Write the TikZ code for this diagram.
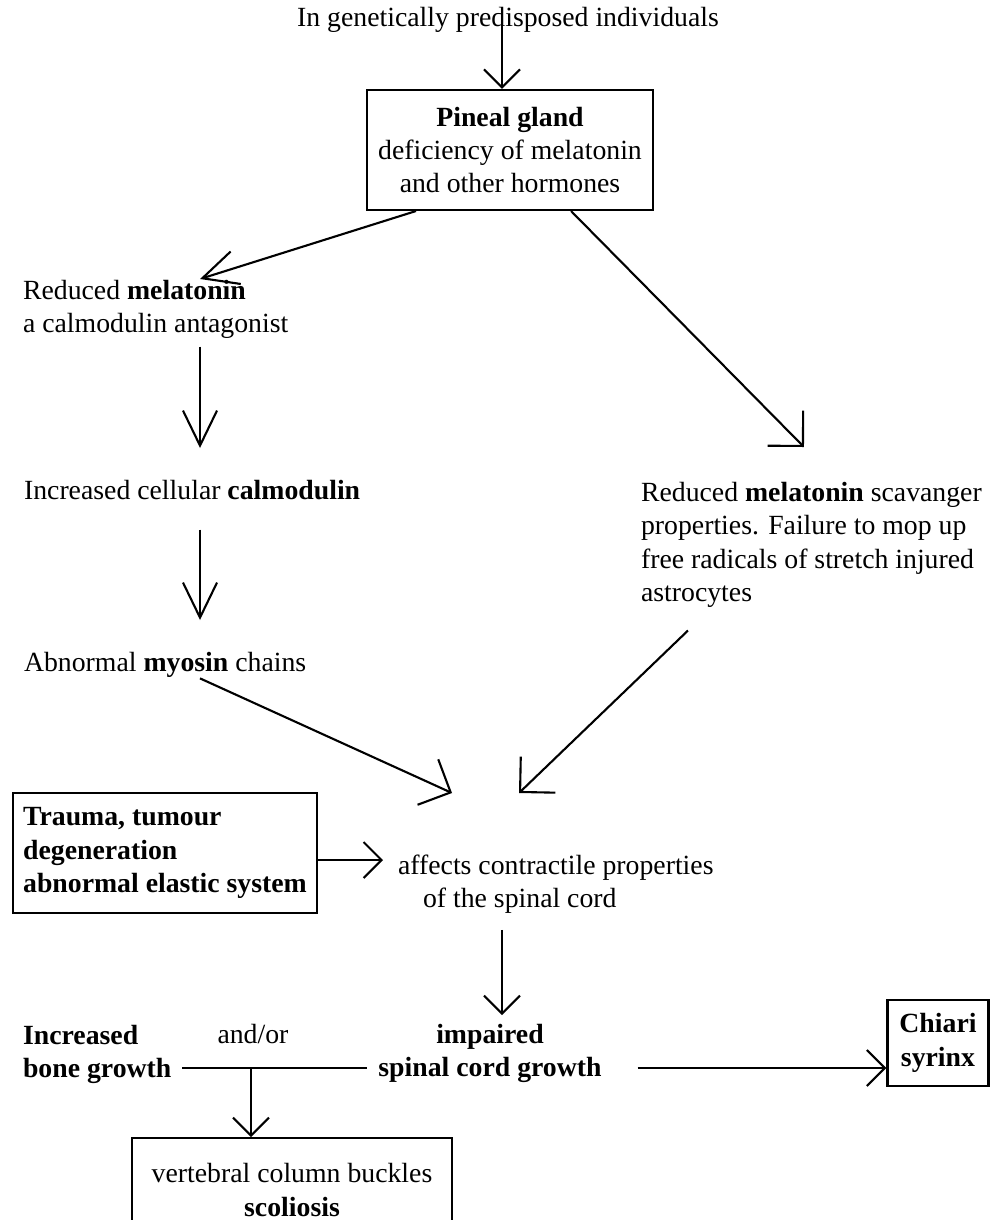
\documentclass[tikz,border=0pt]{standalone}
\usepackage{fontspec}
\setmainfont{Liberation Serif}
\usetikzlibrary{arrows.meta}

\begin{document}
\begin{tikzpicture}[x=0.02cm,y=-0.02cm,
  font=\fontsize{15.8}{19}\selectfont, inner sep=0pt, line width=1.2pt,
  box/.style={draw,align=center},
  arr/.style={-{Straight Barb[length=0.7cm,width=0.68cm]}},
  diag/.style={-{Straight Barb[length=0.5cm,width=1cm]}},
  wide/.style={-{Straight Barb[length=0.36cm,width=0.72cm]}}]
\useasboundingbox (0,0) rectangle (999,1220);
\clip (0,0) rectangle (999,1220);

% texts and boxes
\node (top) [anchor=base] at (508,27) {In genetically predisposed individuals};
\node (pineal) [box, minimum width=5.72cm, minimum height=2.4cm] at (510,150)
  {\textbf{Pineal gland}\\deficiency of melatonin\\and other hormones};
\node (red) [anchor=north west, align=left] at (22,279)
  {Reduced \textbf{melatonin}\\a calmodulin antagonist};
\node (calm) [anchor=north west] at (23,479) {Increased cellular \textbf{calmodulin}};
\node (myo) [anchor=north west] at (23,651) {Abnormal \textbf{myosin} chains};
\node (scav) [anchor=north west, align=left] at (640,481)
  {Reduced \textbf{melatonin} scavanger\\properties. Failure to mop up\\free radicals of stretch injured\\astrocytes};
\node (trauma) [box, align=left, minimum width=6.08cm, minimum height=2.4cm] at (165,853)
  {\textbf{Trauma, tumour}\\\textbf{degeneration}\\\textbf{abnormal elastic system}};
\node (affects) [anchor=north west, align=left] at (397,854)
  {affects contractile properties\\\hspace*{0.5cm}of the spinal cord};
\node (bone) [anchor=north west, align=left] at (22,1024) {\textbf{Increased}\\\textbf{bone growth}};
\node (andor) [anchor=base] at (253,1043) {and/or};
\node (impaired) [anchor=north, align=center] at (490,1023)
  {\textbf{impaired}\\\textbf{spinal cord growth}};
\node (chiari) [box, minimum width=2.02cm, minimum height=1.72cm] at (938,1043)
  {\textbf{Chiari}\\\textbf{syrinx}};
\node (vert) [box, anchor=north, minimum width=6.4cm, minimum height=2.08cm] at (292,1137)
  {vertebral column buckles\\\textbf{scoliosis}};

% helper points
\coordinate (lcol) at (200,0);
\coordinate (row) at (0,1068);
\coordinate (jn) at (251,1068);
\coordinate (inL) at (452,793);
\coordinate (inR) at (519,793);
\coordinate (pin) at ([xshift=-0.16cm]pineal.north);
\coordinate (tr) at ([yshift=-0.14cm]trauma.east);
\coordinate (ia) at ([xshift=0.24cm]impaired.north);

% connectors
\draw[wide] (pin |- top.center) -- (pin);
\draw[arr] ([xshift=1cm]pineal.south west) -- (red.north -| lcol);
\draw[diag] ([xshift=-1.66cm]pineal.south east) -- ([shift={(3.28cm,0.68cm)}]scav.north west);
\draw[arr, shorten <=0.14cm, shorten >=0.62cm] (red.south -| lcol) -- (calm.north -| lcol);
\draw[arr, shorten <=0.58cm, shorten >=0.62cm] (calm.south -| lcol) -- (myo.north -| lcol);
\draw[diag] (myo.south -| lcol) -- (inL);
\draw[diag] ([shift={(0.96cm,-0.44cm)}]scav.south west) -- (inR);
\draw[wide, shorten >=0.28cm] (tr) -- (tr -| affects.west);
\draw[wide, shorten <=0.3cm, shorten >=0.16cm] (ia |- affects.south) -- (ia);
\draw[shorten <=0.2cm, shorten >=0.2cm] (bone.east |- row) -- (impaired.west |- row);
\draw[wide] (jn) -- (jn |- vert.north);
\draw[wide, shorten <=0.7cm] (impaired.east |- row) -- (chiari.west |- row);
\end{tikzpicture}
\end{document}
